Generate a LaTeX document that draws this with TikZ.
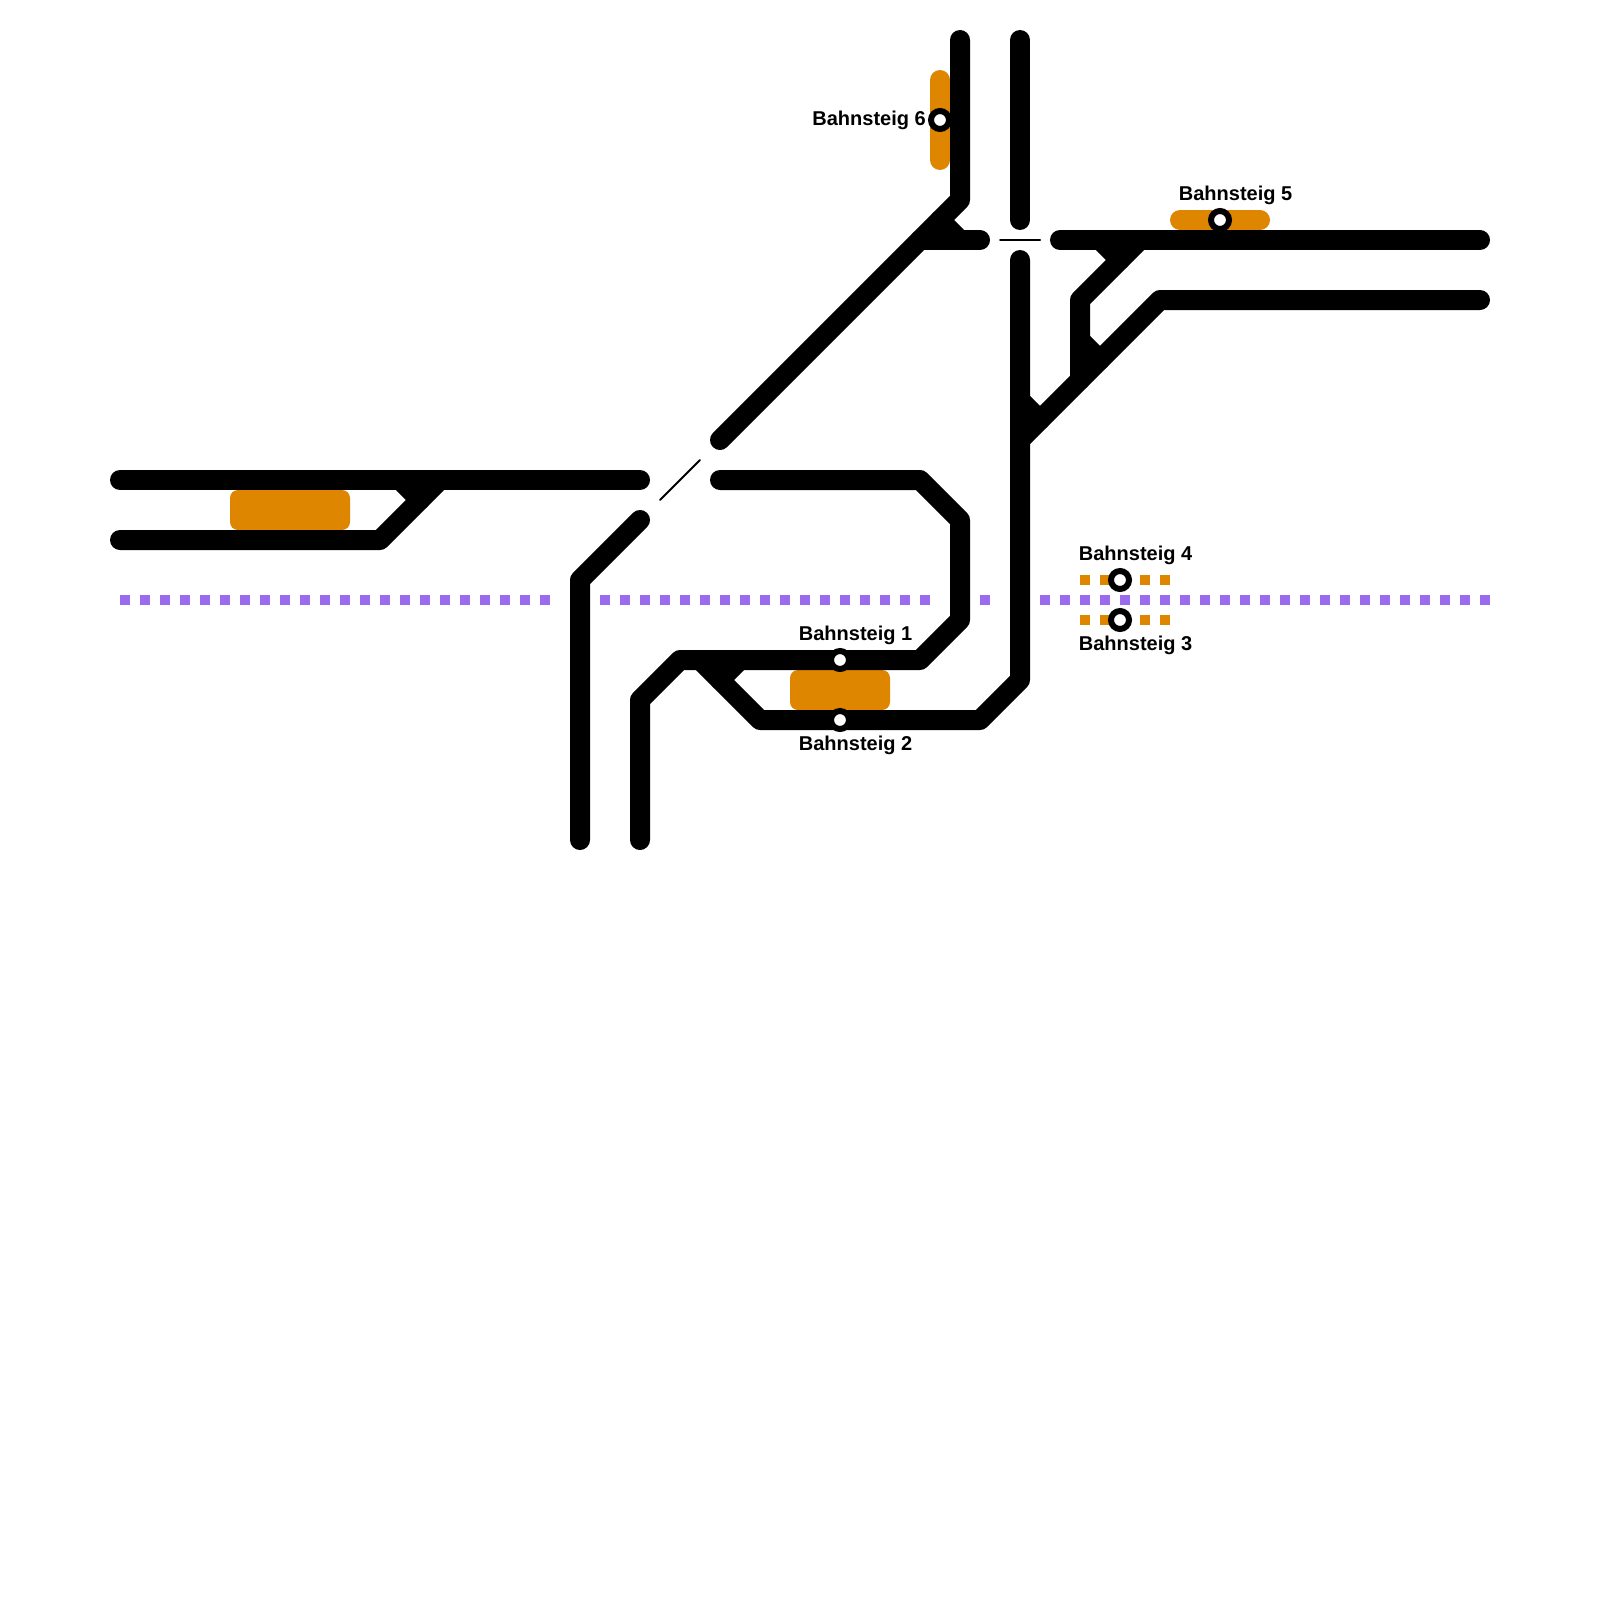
\documentclass[tikz,border=0pt]{standalone}
\usepackage{fontspec}
\setmainfont{Liberation Sans}
\usepackage{xcolor}
\usepackage{tikz}
\definecolor{platformorange}{HTML}{DF8600}
\definecolor{linepurple}{HTML}{9B6BED}
\tikzset{
  track/.style={black, line width=10pt, line cap=round, line join=round},
  thintrack/.style={black, line width=1pt, line cap=round},
  platform/.style={platformorange, fill=platformorange, rounded corners=4pt},
  dotline/.style={line width=5pt, dash pattern=on 5pt off 5pt},
  stop/.style={circle, draw=black, fill=white, line width=3pt, minimum size=9pt, inner sep=0},
  stopname/.style={inner sep=0, font=\bfseries\fontsize{10pt}{12pt}\selectfont},
}

\begin{document}
\begin{tikzpicture} [x=.5pt,y=-.5pt]
\useasboundingbox (0,0) rectangle (1600,1600);
% platforms
\fill[platform] (230,490) rectangle (350,530);
\fill[platform] (790,670) rectangle (890,710);
\fill[platformorange, rounded corners=5pt] (1170,210) rectangle (1270,230);
\fill[platformorange, rounded corners=5pt] (930,70) rectangle (950,170);
\foreach \y in {580,620} {
  \draw[dotline,platformorange] (1080,\y)--(1170,\y);
}
% purple line
\foreach \a/\b in {120/550,600/930,980/990,1040/1490} {
  \draw[dotline,linepurple] (\a,600)--(\b,600);
}
% tracks, top
\draw[track] (960,40)--(960,200)--(720,440);
\draw[track] (940,220)--(960,240);
\draw[track] (920,240)--(980,240);
\draw[track] (1020,40)--(1020,220);
\draw[track] (1060,240)--(1480,240);
\draw[track] (1100,240)--(1120,260);
\draw[track] (1140,240)--(1080,300)--(1080,380);
\draw[track] (1080,340)--(1100,360);
\draw[track] (1480,300)--(1160,300)--(1020,440);
\draw[track] (1020,400)--(1040,420);
% tracks, middle
\draw[track] (1020,260)--(1020,680)--(980,720)--(760,720)--(700,660);
\draw[track] (720,480)--(920,480)--(960,520)--(960,620)--(920,660)--(680,660)--(640,700)--(640,840);
\draw[track] (740,660)--(720,680);
% tracks, left
\draw[track] (120,480)--(640,480);
\draw[track] (120,540)--(380,540)--(440,480);
\draw[track] (400,480)--(420,500);
\draw[track] (580,840)--(580,580)--(640,520);
% crossings
\draw[thintrack] (1000,240)--(1040,240);
\draw[thintrack] (660,500)--(700,460);
% stops
\foreach \n/\x/\y in {1/840/660,2/840/720,3/1120/620,4/1120/580,5/1220/220,6/940/120} {
  \node[stop] (stop\n) at (\x,\y) {};
}
\node[stopname, anchor=base west] (name1) at (798.5,640) {Bahnsteig 1};
\node[stopname, anchor=base west] (name2) at (798.5,750) {Bahnsteig 2};
\node[stopname, anchor=base west] (name3) at (1078.5,650) {Bahnsteig 3};
\node[stopname, anchor=base west] (name4) at (1078.5,560) {Bahnsteig 4};
\node[stopname, anchor=base west] (name5) at (1178.5,200) {Bahnsteig 5};
\node[stopname, anchor=base west] (name6) at (812,126) {Bahnsteig 6};
\end{tikzpicture}
\end{document}
